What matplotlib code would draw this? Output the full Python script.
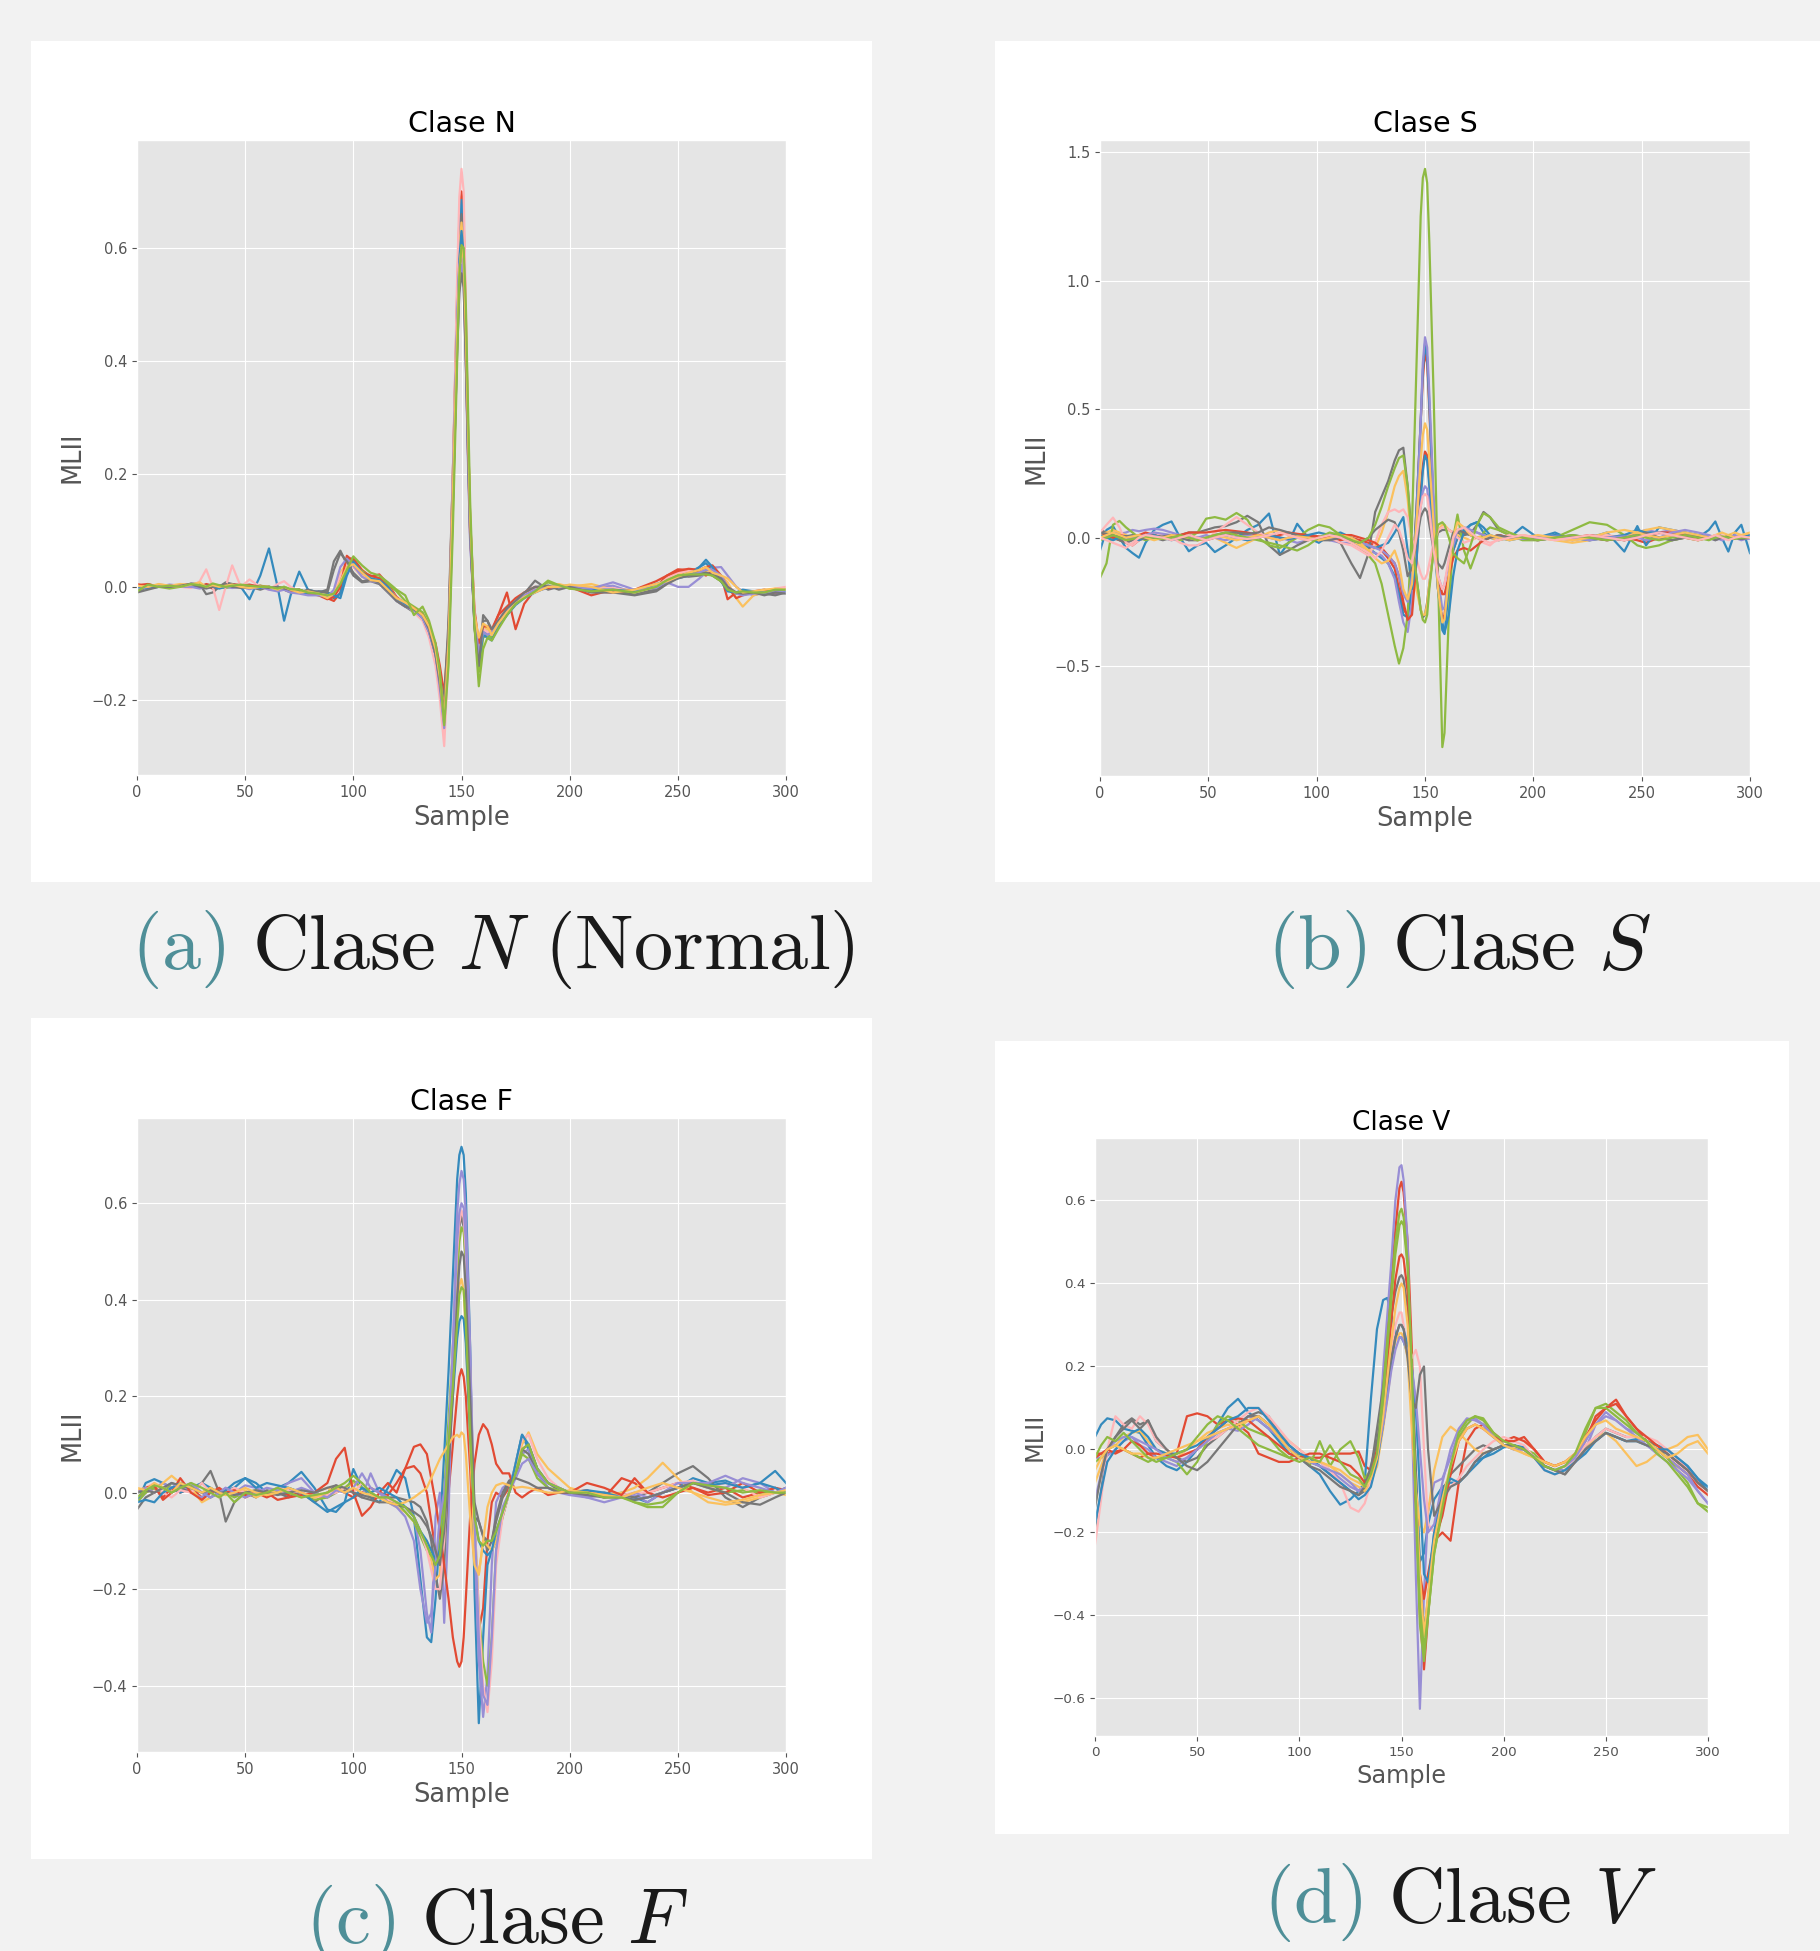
import matplotlib
matplotlib.use('Agg')
import matplotlib.pyplot as plt
from matplotlib.patches import Rectangle

plt.style.use('ggplot')
plt.rcParams['mathtext.fontset'] = 'cm'

# ---------------------------------------------------------------
# Data: ECG beats (MLII lead)
# ---------------------------------------------------------------

# Clase N (Normal)
samples_n = [0, 5, 10, 15, 20, 25, 29, 32, 35, 38,
             41, 44, 48, 52, 57, 61, 65, 68, 71, 75,
             79, 84, 88, 91, 94, 97, 100, 104, 108, 112,
             116, 120, 124, 128, 132, 135, 138, 140, 142, 144,
             146, 148, 149, 150, 151, 152, 153, 154, 156, 158,
             160, 162, 164, 167, 171, 175, 179, 184, 190, 195,
             200, 210, 220, 230, 240, 245, 250, 255, 260, 263,
             266, 270, 273, 277, 280, 285, 290, 295, 300]

n_red_1 = [0.005, 0.0, 0.002, 0.0, 0.003, 0.005, 0.0, 0.002, -0.003, 0.0,
           0.002, 0.005, 0.003, 0.0, 0.002, -0.002, 0.0, -0.005, -0.005, -0.008,
           -0.01, -0.012, -0.02, -0.025, -0.01, 0.05, 0.05, 0.03, 0.018, 0.022,
           0.005, -0.018, -0.03, -0.04, -0.05, -0.07, -0.1, -0.14, -0.19, -0.08,
           0.2, 0.52, 0.65, 0.70, 0.65, 0.48, 0.28, 0.12, -0.04, -0.1,
           -0.07, -0.07, -0.08, -0.05, -0.01, -0.075, -0.03, -0.005, 0.0, 0.002,
           0.0, -0.015, -0.005, -0.01, 0.0, 0.02, 0.031, 0.03, 0.025, 0.02,
           0.028, 0.02, -0.022, -0.01, -0.012, -0.008, -0.01, -0.005, -0.008]
n_blue_1 = [-0.005, 0.0, 0.003, 0.0, 0.002, 0.0, 0.004, 0.0, 0.002, 0.003,
            0.0, 0.0, 0.0, -0.022, 0.02, 0.068, 0.0, -0.06, -0.015, 0.027,
            -0.005, -0.01, -0.012, -0.02, -0.012, 0.03, 0.042, 0.022, 0.012, 0.015,
            0.0, -0.02, -0.03, -0.04, -0.05, -0.075, -0.115, -0.17, -0.25, -0.11,
            0.18, 0.5, 0.63, 0.685, 0.62, 0.45, 0.26, 0.1, -0.06, -0.12,
            -0.08, -0.085, -0.09, -0.07, -0.05, -0.03, -0.015, -0.005, 0.002, 0.0,
            0.003, -0.005, -0.008, -0.01, 0.0, 0.012, 0.02, 0.025, 0.035, 0.042,
            0.03, 0.01, -0.005, -0.012, -0.01, -0.01, -0.012, -0.008, -0.01]
n_purple_1 = [0.0, 0.002, 0.0, 0.004, 0.002, 0.0, 0.003, 0.0, 0.002, -0.002,
              0.0, 0.003, 0.0, 0.002, -0.003, 0.0, -0.005, -0.003, -0.008, -0.01,
              -0.01, -0.012, -0.02, -0.015, 0.02, 0.04, 0.035, 0.02, 0.012, 0.01,
              -0.005, -0.022, -0.03, -0.038, -0.05, -0.075, -0.12, -0.17, -0.255, -0.12,
              0.15, 0.42, 0.53, 0.57, 0.53, 0.4, 0.23, 0.08, -0.06, -0.11,
              -0.075, -0.08, -0.085, -0.065, -0.045, -0.03, -0.015, -0.008, -0.002, 0.0,
              0.0, -0.002, 0.002, -0.01, -0.005, 0.008, 0.0, 0.0, 0.015, 0.025,
              0.034, 0.035, 0.02, 0.0, -0.008, -0.015, -0.01, -0.012, -0.006]
n_gray_1 = [-0.008, 0.0, 0.0, 0.003, 0.0, 0.006, 0.005, -0.013, -0.01, 0.0,
            0.008, 0.005, 0.0, 0.0, -0.005, 0.0, -0.003, -0.005, -0.01, -0.01,
            -0.005, -0.01, -0.005, 0.045, 0.064, 0.04, 0.02, 0.008, 0.01, 0.005,
            -0.01, -0.025, -0.035, -0.045, -0.055, -0.08, -0.12, -0.16, -0.2, -0.06,
            0.2, 0.5, 0.61, 0.66, 0.6, 0.44, 0.26, 0.1, -0.07, -0.15,
            -0.05, -0.06, -0.08, -0.065, -0.04, -0.025, -0.012, 0.011, -0.005, 0.0,
            0.0, -0.005, -0.008, -0.012, -0.005, 0.01, 0.02, 0.018, 0.02, 0.025,
            0.02, 0.01, -0.005, -0.01, -0.012, -0.01, -0.012, -0.015, -0.01]
n_yellow_1 = [0.0, 0.004, 0.0, 0.002, 0.005, 0.003, 0.0, 0.0, 0.004, 0.002,
              0.0, 0.0, 0.002, 0.0, 0.0, -0.003, 0.0, -0.002, -0.005, -0.008,
              -0.012, -0.01, -0.015, -0.01, 0.025, 0.042, 0.035, 0.018, 0.01, 0.012,
              0.0, -0.02, -0.03, -0.04, -0.05, -0.07, -0.11, -0.16, -0.22, -0.1,
              0.18, 0.48, 0.6, 0.645, 0.59, 0.42, 0.24, 0.09, -0.05, -0.11,
              -0.07, -0.075, -0.08, -0.06, -0.04, -0.025, -0.012, -0.005, 0.0, 0.005,
              0.0, 0.005, -0.005, -0.005, 0.0, 0.01, 0.022, 0.03, 0.03, 0.028,
              0.03, 0.02, 0.008, -0.02, -0.035, -0.015, -0.01, -0.006, -0.005]
n_green_1 = [-0.01, 0.005, 0.0, -0.003, 0.0, 0.004, 0.006, 0.0, 0.002, 0.0,
             -0.002, 0.0, 0.003, 0.0, 0.002, 0.0, -0.002, 0.0, -0.005, -0.005,
             -0.01, -0.015, -0.012, -0.01, 0.01, 0.045, 0.04, 0.028, 0.018, 0.016,
             0.005, -0.008, -0.025, -0.035, -0.045, -0.068, -0.105, -0.155, -0.24, -0.12,
             0.13, 0.43, 0.56, 0.61, 0.59, 0.46, 0.28, 0.12, -0.07, -0.15,
             -0.09, -0.085, -0.09, -0.07, -0.045, -0.03, -0.018, -0.005, 0.008, 0.002,
             -0.003, -0.005, -0.005, -0.01, 0.0, 0.015, 0.02, 0.022, 0.025, 0.025,
             0.02, 0.01, -0.005, -0.012, -0.01, -0.008, -0.01, -0.005, -0.008]
n_pink_1 = [0.0, 0.002, 0.0, 0.003, 0.0, -0.002, 0.01, 0.031, 0.0, -0.041,
            0.0, 0.038, 0.0, 0.013, 0.0, -0.005, 0.005, 0.01, 0.0, -0.008,
            -0.01, -0.01, -0.015, -0.01, 0.02, 0.04, 0.035, 0.02, 0.015, 0.012,
            0.0, -0.02, -0.03, -0.045, -0.06, -0.09, -0.14, -0.2, -0.282, -0.12,
            0.2, 0.55, 0.69, 0.74, 0.7, 0.5, 0.28, 0.1, -0.05, -0.1,
            -0.075, -0.08, -0.085, -0.06, -0.04, -0.028, -0.015, -0.005, 0.0, 0.0,
            0.002, -0.003, -0.002, -0.01, 0.0, 0.015, 0.025, 0.028, 0.032, 0.03,
            0.028, 0.018, 0.0, -0.01, -0.012, -0.01, -0.008, -0.003, 0.0]
n_red_2 = [0.003, 0.005, 0.0, 0.002, 0.0, 0.003, 0.0, 0.005, 0.002, 0.0,
           0.004, 0.0, 0.002, 0.004, 0.0, 0.0, -0.004, -0.005, -0.008, -0.005,
           -0.012, -0.015, -0.022, -0.018, 0.0, 0.055, 0.045, 0.025, 0.02, 0.015,
           0.0, -0.02, -0.03, -0.038, -0.05, -0.07, -0.11, -0.16, -0.23, -0.1,
           0.16, 0.45, 0.56, 0.6, 0.56, 0.41, 0.24, 0.09, -0.05, -0.1,
           -0.07, -0.07, -0.075, -0.05, -0.035, -0.02, -0.01, 0.0, -0.002, 0.0,
           0.0, -0.008, -0.01, -0.005, 0.01, 0.02, 0.028, 0.032, 0.03, 0.035,
           0.038, 0.02, 0.0, -0.02, -0.015, -0.008, -0.005, -0.01, -0.005]
n_blue_2 = [0.0, -0.003, 0.0, 0.002, 0.0, 0.003, 0.0, 0.002, 0.0, -0.003,
            0.0, 0.003, 0.0, 0.0, -0.002, 0.0, -0.003, -0.005, -0.005, -0.008,
            -0.012, -0.008, -0.01, -0.015, -0.02, 0.02, 0.045, 0.025, 0.015, 0.012,
            0.0, -0.022, -0.032, -0.04, -0.055, -0.08, -0.12, -0.17, -0.24, -0.11,
            0.15, 0.46, 0.58, 0.63, 0.59, 0.44, 0.25, 0.1, -0.06, -0.13,
            -0.085, -0.09, -0.095, -0.07, -0.05, -0.032, -0.02, -0.01, 0.0, 0.0,
            0.0, -0.005, -0.005, -0.008, 0.005, 0.01, 0.015, 0.02, 0.035, 0.048,
            0.035, 0.01, -0.008, -0.01, -0.005, -0.008, -0.01, -0.005, -0.008]
n_purple_2 = [-0.005, 0.0, 0.004, 0.002, 0.0, 0.0, -0.003, 0.0, 0.0, 0.003,
              0.0, -0.002, 0.0, -0.004, 0.0, -0.005, -0.008, -0.005, -0.01, -0.012,
              -0.015, -0.015, -0.018, -0.005, 0.035, 0.05, 0.038, 0.018, 0.01, 0.008,
              -0.008, -0.025, -0.035, -0.042, -0.055, -0.08, -0.12, -0.18, -0.25, -0.1,
              0.18, 0.47, 0.57, 0.6, 0.55, 0.4, 0.22, 0.08, -0.05, -0.12,
              -0.08, -0.085, -0.08, -0.06, -0.04, -0.025, -0.015, -0.005, 0.0, -0.002,
              0.0, -0.003, 0.008, -0.005, -0.002, 0.01, 0.018, 0.02, 0.025, 0.03,
              0.03, 0.02, 0.0, -0.012, -0.015, -0.012, -0.01, -0.008, -0.01]
n_gray_2 = [-0.01, -0.005, 0.0, 0.0, 0.002, 0.005, 0.0, -0.003, 0.0, 0.002,
            0.005, 0.0, -0.002, 0.0, 0.0, -0.002, 0.0, -0.003, -0.005, -0.005,
            -0.01, -0.008, -0.01, 0.03, 0.06, 0.045, 0.025, 0.01, 0.012, 0.008,
            -0.008, -0.025, -0.035, -0.04, -0.05, -0.075, -0.12, -0.17, -0.23, -0.08,
            0.15, 0.42, 0.52, 0.555, 0.53, 0.4, 0.24, 0.1, -0.07, -0.14,
            -0.06, -0.06, -0.075, -0.06, -0.038, -0.025, -0.01, 0.0, 0.002, -0.005,
            0.0, -0.01, -0.01, -0.015, -0.008, 0.005, 0.015, 0.02, 0.022, 0.025,
            0.022, 0.015, 0.0, -0.01, -0.012, -0.01, -0.015, -0.01, -0.012]
n_yellow_2 = [0.002, 0.0, 0.005, 0.002, 0.0, 0.004, 0.008, 0.0, 0.003, 0.0,
              0.002, 0.004, 0.0, -0.002, 0.0, 0.0, -0.005, 0.0, -0.005, -0.01,
              -0.008, -0.012, -0.02, -0.012, 0.01, 0.035, 0.04, 0.025, 0.012, 0.01,
              -0.005, -0.02, -0.028, -0.038, -0.05, -0.07, -0.11, -0.16, -0.24, -0.1,
              0.16, 0.45, 0.56, 0.6, 0.58, 0.45, 0.28, 0.12, -0.05, -0.09,
              -0.065, -0.07, -0.085, -0.065, -0.045, -0.03, -0.018, -0.01, 0.0, 0.0,
              0.004, 0.0, -0.01, -0.005, 0.005, 0.01, 0.018, 0.025, 0.03, 0.035,
              0.025, 0.02, 0.015, 0.0, -0.01, -0.008, -0.005, -0.003, -0.005]
n_green_2 = [-0.008, 0.004, 0.0, 0.002, 0.0, 0.005, 0.003, 0.0, 0.006, 0.003,
             0.0, 0.002, 0.004, 0.002, 0.0, 0.0, -0.003, 0.0, -0.004, -0.005,
             -0.01, -0.012, -0.015, -0.012, 0.005, 0.03, 0.054, 0.038, 0.025, 0.02,
             0.008, -0.005, -0.015, -0.05, -0.035, -0.06, -0.1, -0.15, -0.245, -0.14,
             0.1, 0.4, 0.55, 0.605, 0.6, 0.5, 0.32, 0.15, -0.07, -0.176,
             -0.11, -0.09, -0.095, -0.075, -0.05, -0.03, -0.02, -0.008, 0.011, 0.003,
             -0.003, -0.008, -0.005, -0.01, 0.0, 0.012, 0.02, 0.022, 0.022, 0.022,
             0.02, 0.01, -0.005, -0.01, -0.008, -0.01, -0.01, -0.005, -0.005]

# Clase S
samples_s = [0, 3, 6, 9, 12, 15, 18, 21, 25, 29,
             33, 37, 41, 45, 49, 53, 58, 63, 68, 73,
             78, 83, 87, 91, 96, 101, 106, 111, 116, 120,
             124, 127, 130, 133, 136, 138, 140, 142, 144, 146,
             148, 149, 150, 151, 152, 154, 156, 158, 159, 161,
             163, 165, 168, 171, 174, 177, 180, 184, 189, 195,
             202, 210, 218, 226, 234, 242, 248, 252, 258, 264,
             270, 276, 281, 284, 287, 290, 293, 296, 300]

s_red_1 = [0.0, 0.01, 0.0, -0.01, -0.02, -0.03, -0.01, 0.0, 0.01, 0.0,
           -0.005, 0.0, 0.01, 0.0, -0.01, 0.0, 0.01, 0.02, 0.01, 0.0,
           0.01, 0.0, -0.005, 0.0, 0.01, 0.005, 0.0, -0.01, 0.0, -0.01,
           -0.02, -0.03, -0.05, -0.08, -0.12, -0.2, -0.28, -0.3, -0.2, 0.1,
           0.45, 0.62, 0.72, 0.68, 0.5, 0.1, -0.2, -0.32, -0.3, -0.15,
           -0.05, 0.0, 0.02, 0.01, 0.0, -0.01, 0.0, 0.01, 0.0, -0.005,
           0.0, 0.005, -0.005, 0.0, -0.01, 0.0, -0.01, -0.02, 0.0, 0.01,
           0.0, -0.01, 0.0, 0.005, 0.0, -0.005, 0.0, 0.005, 0.0]
s_blue_1 = [-0.05, 0.03, 0.045, 0.0, -0.04, -0.06, -0.078, -0.02, 0.03, 0.05,
            0.063, 0.0, -0.053, -0.03, -0.02, -0.056, -0.03, 0.0, 0.03, 0.05,
            0.094, -0.067, -0.02, 0.054, 0.0, -0.02, 0.01, 0.02, 0.0, -0.02,
            -0.04, -0.06, -0.08, -0.1, -0.15, -0.22, -0.3, -0.31, -0.2, 0.1,
            0.45, 0.65, 0.755, 0.7, 0.52, 0.1, -0.2, -0.36, -0.375, -0.2,
            -0.05, 0.0, 0.03, 0.05, 0.06, 0.02, 0.0, -0.01, 0.0, 0.042,
            0.0, 0.02, -0.01, 0.0, 0.02, -0.054, 0.045, -0.03, 0.04, 0.03,
            0.02, 0.0, 0.03, 0.063, 0.0, -0.054, 0.02, 0.05, -0.06]
s_purple_1 = [0.0, 0.01, 0.02, 0.015, 0.02, 0.03, 0.025, 0.03, 0.035, 0.03,
              0.02, 0.01, 0.0, -0.01, -0.005, 0.0, 0.01, 0.0, -0.01, 0.0,
              0.01, 0.0, -0.01, -0.02, -0.01, 0.0, -0.01, -0.02, -0.02, -0.03,
              -0.05, -0.06, -0.07, -0.1, -0.16, -0.25, -0.33, -0.367, -0.25, 0.05,
              0.45, 0.68, 0.78, 0.74, 0.56, 0.15, -0.15, -0.28, -0.27, -0.15,
              -0.03, 0.02, 0.04, 0.03, 0.02, 0.01, 0.0, 0.0, 0.01, 0.0,
              0.0, 0.01, 0.0, -0.01, 0.0, 0.01, 0.02, 0.03, 0.02, 0.03,
              0.02, 0.01, 0.0, -0.01, 0.0, 0.01, 0.0, -0.01, 0.0]
s_gray_1 = [0.03, 0.02, 0.0, -0.01, -0.02, -0.01, 0.0, 0.01, 0.0, -0.01,
            0.0, 0.01, 0.02, 0.02, 0.03, 0.04, 0.045, 0.06, 0.085, 0.06,
            -0.03, -0.067, -0.05, -0.03, -0.01, 0.0, 0.0, -0.02, -0.1, -0.157,
            -0.06, 0.1, 0.16, 0.22, 0.3, 0.34, 0.35, 0.2, 0.0, -0.15,
            -0.28, -0.31, -0.3, -0.25, -0.18, -0.05, 0.02, 0.03, 0.03, 0.03,
            0.02, 0.02, 0.01, 0.015, 0.05, 0.1, 0.08, 0.03, 0.01, 0.0,
            -0.01, 0.0, -0.01, 0.01, 0.0, -0.01, 0.0, 0.01, 0.0, -0.01,
            0.0, 0.01, 0.0, -0.005, 0.0, 0.005, 0.0, -0.005, 0.0]
s_yellow_1 = [0.01, 0.02, 0.03, 0.02, 0.01, 0.0, 0.005, 0.01, 0.0, -0.005,
              0.0, 0.01, 0.0, -0.01, -0.005, 0.0, -0.02, -0.04, -0.02, 0.0,
              0.02, 0.03, 0.01, 0.0, -0.01, 0.0, 0.01, 0.0, -0.01, -0.03,
              -0.05, -0.04, 0.02, 0.1, 0.2, 0.24, 0.26, 0.15, -0.05, -0.2,
              -0.28, -0.3, -0.3, -0.26, -0.18, -0.05, 0.03, 0.05, 0.05, 0.03,
              0.02, 0.01, 0.0, -0.01, 0.0, 0.01, 0.0, -0.01, 0.0, 0.01,
              0.0, -0.01, -0.02, -0.01, 0.0, 0.01, 0.02, 0.03, 0.04, 0.03,
              0.02, 0.01, 0.0, 0.01, 0.0, 0.01, 0.02, 0.01, 0.015]
s_green_1 = [-0.157, -0.1, 0.05, 0.065, 0.04, 0.02, 0.0, -0.01, 0.0, 0.01,
             0.0, -0.01, 0.0, 0.02, 0.074, 0.08, 0.07, 0.096, 0.07, 0.0,
             -0.03, -0.04, -0.02, 0.0, 0.03, 0.05, 0.04, 0.01, -0.02, -0.04,
             -0.07, -0.1, -0.18, -0.3, -0.42, -0.49, -0.43, -0.3, 0.05, 0.65,
             1.25, 1.4, 1.435, 1.38, 1.15, 0.55, -0.15, -0.815, -0.76, -0.3,
             0.0, 0.09, -0.05, -0.12, -0.05, 0.02, 0.04, 0.03, 0.01, -0.01,
             -0.01, 0.0, 0.03, 0.06, 0.05, 0.01, -0.03, -0.04, -0.03, -0.01,
             0.0, -0.01, 0.0, 0.005, 0.0, 0.01, 0.0, 0.005, 0.0]
s_pink_1 = [0.02, 0.05, 0.078, 0.04, -0.02, -0.03, -0.01, 0.0, 0.02, 0.01,
            0.0, -0.02, -0.03, -0.03, -0.01, 0.02, 0.05, 0.08, 0.05, 0.02,
            0.0, -0.01, 0.0, 0.01, 0.0, -0.01, 0.0, -0.02, -0.03, -0.05,
            -0.07, -0.02, 0.05, 0.1, 0.11, 0.1, 0.11, 0.08, 0.0, -0.08,
            -0.14, -0.16, -0.16, -0.14, -0.1, -0.02, 0.03, 0.04, 0.04, 0.03,
            0.02, 0.0, -0.02, -0.01, 0.0, -0.02, -0.03, 0.0, 0.01, 0.0,
            -0.01, 0.0, -0.01, 0.0, 0.01, 0.0, 0.01, 0.0, 0.015, 0.02,
            0.01, 0.0, 0.01, 0.0, 0.01, 0.0, 0.005, 0.0, 0.01]
s_red_2 = [0.02, 0.01, 0.0, 0.01, 0.005, 0.0, 0.01, 0.02, 0.01, 0.0,
           0.005, 0.01, 0.02, 0.02, 0.02, 0.025, 0.03, 0.025, 0.02, 0.01,
           0.0, 0.01, 0.02, 0.015, 0.01, 0.0, 0.005, 0.01, 0.01, 0.0,
           -0.01, -0.02, -0.04, -0.07, -0.1, -0.15, -0.25, -0.32, -0.3, -0.1,
           0.18, 0.28, 0.335, 0.32, 0.22, 0.0, -0.15, -0.22, -0.22, -0.15,
           -0.08, -0.05, -0.04, -0.05, -0.03, -0.01, 0.0, 0.01, 0.0, 0.0,
           0.0, -0.005, 0.0, 0.01, 0.0, -0.01, 0.0, 0.01, 0.02, 0.02,
           0.01, 0.0, 0.005, 0.0, -0.005, 0.0, 0.005, 0.0, 0.005]
s_blue_2 = [0.01, 0.0, -0.01, 0.0, 0.005, 0.0, -0.01, 0.0, 0.01, 0.0,
            -0.01, 0.0, 0.005, 0.0, -0.005, 0.0, 0.01, 0.0, -0.01, 0.0,
            0.01, 0.0, -0.005, 0.0, 0.01, 0.02, 0.01, 0.0, -0.01, -0.02,
            -0.03, -0.04, -0.03, -0.02, 0.02, 0.05, 0.08, -0.05, -0.2, -0.1,
            0.15, 0.26, 0.32, 0.3, 0.2, 0.0, -0.2, -0.33, -0.37, -0.3,
            -0.15, -0.05, 0.02, 0.05, 0.06, 0.04, 0.01, 0.0, -0.01, 0.0,
            0.0, 0.01, 0.0, -0.01, 0.0, 0.01, 0.03, 0.02, 0.02, 0.01,
            0.02, 0.01, 0.0, 0.005, 0.0, -0.005, 0.0, 0.0, 0.01]
s_purple_2 = [0.0, 0.005, 0.01, 0.0, -0.005, 0.0, 0.005, 0.01, 0.02, 0.015,
              0.01, 0.0, -0.01, 0.0, 0.01, 0.0, -0.01, 0.0, 0.01, 0.005,
              0.0, -0.01, 0.0, 0.005, 0.0, -0.01, -0.005, 0.0, -0.01, -0.02,
              -0.03, -0.04, -0.05, -0.07, -0.1, -0.15, -0.22, -0.25, -0.15, 0.0,
              0.12, 0.18, 0.2, 0.19, 0.12, -0.02, -0.15, -0.2, -0.18, -0.1,
              -0.02, 0.03, 0.04, 0.03, 0.02, 0.01, 0.0, 0.005, 0.0, -0.005,
              0.0, 0.005, 0.0, -0.01, 0.0, 0.005, 0.0, -0.01, 0.0, 0.02,
              0.03, 0.02, 0.01, 0.0, -0.01, 0.0, 0.01, 0.0, -0.005]
s_gray_2 = [0.02, 0.015, 0.01, 0.0, 0.005, 0.01, 0.0, -0.005, 0.0, 0.005,
            0.01, 0.0, -0.01, -0.01, 0.0, 0.01, 0.02, 0.02, 0.015, 0.02,
            0.04, 0.03, 0.02, 0.01, 0.0, -0.01, -0.01, 0.0, -0.01, -0.02,
            0.0, 0.03, 0.05, 0.07, 0.06, 0.02, -0.05, -0.15, -0.12, -0.02,
            0.08, 0.1, 0.114, 0.1, 0.05, -0.05, -0.1, -0.12, -0.1, -0.04,
            0.02, 0.03, 0.02, 0.01, 0.0, -0.01, 0.0, 0.01, 0.0, 0.0,
            -0.01, 0.0, 0.01, 0.0, -0.01, 0.0, 0.01, 0.02, 0.0, -0.01,
            0.0, 0.005, 0.0, -0.01, 0.0, 0.005, 0.0, -0.005, 0.0]
s_yellow_2 = [0.0, 0.01, 0.02, 0.01, 0.0, 0.005, 0.01, 0.0, -0.01, 0.0,
              0.01, 0.005, 0.0, -0.01, 0.0, 0.01, 0.0, -0.01, 0.0, 0.01,
              0.0, -0.01, 0.0, 0.005, 0.0, -0.01, 0.0, 0.01, 0.0, -0.02,
              -0.05, -0.08, -0.1, -0.09, -0.05, -0.1, -0.2, -0.24, -0.18, 0.05,
              0.3, 0.4, 0.445, 0.42, 0.3, 0.05, -0.2, -0.33, -0.32, -0.15,
              0.0, 0.06, 0.04, 0.01, 0.0, 0.0, 0.01, 0.0, -0.01, 0.0,
              0.01, 0.0, -0.01, 0.0, 0.02, 0.03, 0.02, 0.01, 0.0, 0.01,
              0.02, 0.01, 0.0, 0.01, 0.02, 0.01, 0.0, 0.01, 0.02]
s_green_2 = [-0.01, 0.0, 0.01, 0.0, -0.01, -0.005, 0.0, 0.005, 0.0, -0.005,
             0.0, 0.01, 0.0, -0.01, 0.0, 0.01, 0.02, 0.01, 0.0, -0.01,
             -0.02, -0.03, -0.04, -0.05, -0.03, 0.0, 0.02, 0.01, -0.01, -0.02,
             0.0, 0.05, 0.12, 0.2, 0.27, 0.31, 0.32, 0.2, -0.02, -0.15,
             -0.28, -0.32, -0.33, -0.3, -0.2, -0.05, 0.05, 0.06, 0.05, 0.0,
             -0.06, -0.08, -0.1, -0.03, 0.05, 0.095, 0.08, 0.04, 0.02, 0.0,
             -0.01, 0.0, 0.01, 0.0, -0.01, 0.0, 0.01, 0.0, -0.01, 0.0,
             0.01, 0.0, -0.01, 0.0, 0.005, 0.0, -0.005, 0.0, 0.0]
s_pink_2 = [0.0, -0.01, -0.02, -0.03, -0.04, -0.02, 0.0, 0.01, 0.005, 0.0,
            -0.01, 0.0, 0.01, 0.0, -0.01, 0.0, 0.01, 0.0, -0.005, 0.0,
            0.01, 0.02, 0.01, 0.0, -0.01, 0.0, 0.01, 0.0, -0.02, -0.04,
            -0.06, -0.08, -0.05, 0.0, 0.05, 0.03, -0.02, -0.08, -0.1, 0.0,
            0.12, 0.16, 0.17, 0.16, 0.1, -0.05, -0.15, -0.2, -0.18, -0.08,
            0.0, 0.03, 0.04, 0.02, 0.0, -0.01, -0.02, -0.01, 0.0, 0.01,
            0.0, -0.01, 0.0, 0.01, 0.0, -0.01, 0.0, 0.01, 0.02, 0.01,
            0.0, -0.01, 0.0, 0.01, 0.0, -0.01, 0.0, 0.005, 0.0]

# Clase F
samples_f = [0, 4, 8, 12, 16, 20, 25, 30, 34, 38,
             41, 45, 50, 55, 60, 65, 70, 76, 82, 88,
             92, 96, 100, 104, 108, 112, 116, 120, 124, 128,
             131, 134, 136, 138, 140, 142, 144, 146, 148, 149,
             150, 151, 152, 154, 156, 158, 160, 162, 164, 166,
             169, 172, 175, 178, 181, 185, 190, 195, 200, 208,
             216, 224, 230, 236, 243, 250, 257, 264, 272, 280,
             288, 295, 300]

f_red_1 = [-0.01, 0.0, 0.01, -0.01, 0.01, 0.0, 0.01, -0.01, 0.0, 0.005,
           0.0, 0.01, -0.005, 0.0, -0.01, 0.0, -0.005, 0.0, -0.01, 0.0,
           0.01, 0.0, -0.01, 0.0, 0.01, 0.0, -0.005, 0.02, 0.05, 0.055,
           0.04, 0.0, -0.06, -0.12, -0.15, -0.1, 0.0, 0.1, 0.2, 0.24,
           0.256, 0.24, 0.2, 0.05, -0.15, -0.285, -0.24, -0.1, -0.02, 0.0,
           -0.01, 0.01, 0.04, 0.09, 0.1, 0.05, 0.02, 0.01, 0.0, 0.005,
           -0.01, 0.03, 0.02, 0.0, 0.01, 0.02, 0.01, 0.0, 0.01, -0.01,
           0.0, 0.01, 0.005]
f_blue_1 = [-0.02, 0.02, 0.028, 0.02, 0.01, 0.0, 0.01, 0.02, 0.01, 0.0,
            0.005, 0.01, 0.03, 0.02, 0.0, 0.01, 0.02, 0.043, 0.01, -0.035,
            -0.04, -0.02, 0.049, 0.01, -0.01, -0.02, 0.01, 0.047, 0.03, -0.05,
            -0.18, -0.3, -0.31, -0.22, -0.08, 0.08, 0.25, 0.45, 0.65, 0.7,
            0.717, 0.7, 0.62, 0.3, -0.2, -0.478, -0.3, -0.15, -0.12, -0.1,
            -0.05, 0.0, 0.06, 0.12, 0.09, 0.04, 0.01, 0.0, 0.0, 0.0,
            -0.01, 0.0, -0.01, -0.02, 0.0, 0.01, 0.03, 0.02, 0.025, 0.01,
            0.02, 0.045, 0.02]
f_purple_1 = [-0.02, 0.0, 0.01, 0.02, 0.01, 0.015, 0.0, -0.01, 0.005, 0.0,
              0.01, 0.0, 0.015, 0.01, 0.0, 0.005, 0.02, 0.03, 0.0, -0.01,
              0.0, 0.01, 0.0, -0.01, 0.04, 0.0, -0.01, -0.02, -0.03, -0.05,
              -0.12, -0.25, -0.29, -0.05, 0.0, -0.27, -0.05, 0.3, 0.58, 0.64,
              0.667, 0.65, 0.58, 0.3, -0.1, -0.35, -0.465, -0.38, -0.15, -0.02,
              0.01, 0.02, 0.05, 0.08, 0.09, 0.04, 0.01, 0.0, -0.005, -0.01,
              -0.005, -0.01, -0.005, -0.02, 0.0, 0.01, 0.02, 0.015, 0.01, 0.03,
              0.02, 0.0, 0.01]
f_gray_1 = [-0.035, -0.01, 0.0, 0.01, 0.0, 0.01, 0.0, 0.02, 0.045, 0.0,
            -0.06, -0.02, 0.0, -0.01, 0.005, 0.0, -0.01, 0.0, -0.02, 0.0,
            0.015, 0.005, 0.0, -0.005, -0.01, -0.01, -0.01, -0.01, -0.015, -0.02,
            -0.03, -0.06, -0.1, -0.17, -0.22, -0.15, 0.05, 0.28, 0.5, 0.55,
            0.574, 0.55, 0.47, 0.2, -0.05, -0.06, -0.09, -0.12, -0.1, -0.05,
            0.0, 0.025, 0.03, 0.09, 0.08, 0.04, 0.02, 0.005, 0.0, -0.005,
            0.0, -0.005, -0.01, 0.0, 0.02, 0.04, 0.055, 0.03, -0.01, -0.03,
            -0.01, 0.0, 0.01]
f_yellow_1 = [0.005, 0.01, 0.0, 0.02, 0.035, 0.02, 0.01, -0.02, -0.01, 0.0,
              -0.005, 0.0, 0.005, -0.01, 0.0, 0.005, 0.0, -0.01, 0.0, 0.01,
              0.0, 0.01, 0.02, 0.01, 0.0, -0.01, -0.02, -0.03, -0.04, -0.06,
              -0.08, -0.11, -0.14, -0.18, -0.17, -0.05, 0.12, 0.28, 0.4, 0.43,
              0.443, 0.42, 0.33, 0.1, -0.12, -0.17, -0.1, -0.11, -0.12, -0.1,
              -0.05, 0.0, 0.05, 0.1, 0.125, 0.08, 0.05, 0.03, 0.01, 0.0,
              -0.005, 0.0, 0.01, 0.03, 0.062, 0.03, 0.0, -0.02, -0.025, -0.02,
              -0.01, 0.0, -0.005]
f_green_1 = [-0.02, 0.0, 0.01, 0.0, 0.02, 0.01, 0.015, 0.0, 0.01, -0.005,
             0.0, -0.01, 0.0, 0.005, -0.005, 0.0, 0.01, 0.0, -0.015, -0.01,
             0.0, 0.01, 0.025, 0.01, 0.0, -0.01, -0.015, -0.02, -0.04, -0.06,
             -0.09, -0.12, -0.13, -0.14, -0.1, 0.0, 0.15, 0.3, 0.45, 0.52,
             0.55, 0.54, 0.48, 0.25, -0.05, -0.25, -0.35, -0.4, -0.3, -0.12,
             -0.05, 0.0, 0.04, 0.08, 0.07, 0.03, 0.01, 0.005, 0.0, 0.0,
             -0.01, -0.005, -0.02, -0.03, -0.03, 0.0, 0.02, 0.01, 0.0, 0.005,
             0.0, 0.0, 0.0]
f_pink_1 = [0.0, 0.01, 0.02, 0.0, -0.01, 0.005, 0.0, 0.02, 0.0, -0.01,
            0.0, 0.01, 0.0, -0.005, 0.0, 0.01, 0.005, 0.0, -0.01, -0.005,
            0.0, 0.01, 0.0, 0.02, 0.0, -0.01, -0.015, -0.02, -0.03, -0.05,
            -0.08, -0.12, -0.16, -0.2, -0.2, -0.1, 0.1, 0.3, 0.5, 0.56,
            0.585, 0.57, 0.5, 0.25, -0.05, -0.25, -0.4, -0.455, -0.35, -0.15,
            -0.05, 0.0, 0.06, 0.11, 0.12, 0.07, 0.03, 0.01, 0.0, 0.0,
            -0.01, -0.005, 0.0, 0.0, 0.01, 0.02, 0.025, 0.01, 0.02, 0.01,
            -0.01, 0.0, 0.005]
f_red_2 = [0.0, 0.01, 0.015, -0.015, 0.0, 0.03, 0.0, -0.015, 0.0, 0.01,
           0.0, 0.005, -0.01, 0.0, 0.0, -0.015, -0.01, -0.005, 0.0, 0.02,
           0.07, 0.093, 0.0, -0.048, -0.03, 0.0, 0.02, 0.0, 0.05, 0.095,
           0.1, 0.08, 0.03, -0.02, -0.08, -0.15, -0.22, -0.3, -0.35, -0.361,
           -0.35, -0.3, -0.22, -0.05, 0.06, 0.12, 0.142, 0.13, 0.1, 0.06,
           0.04, 0.04, 0.0, -0.01, 0.0, 0.01, -0.005, 0.0, 0.0, 0.02,
           0.01, -0.005, 0.03, 0.0, -0.01, 0.0, 0.01, -0.005, 0.0, 0.02,
           0.0, 0.01, 0.0]
f_blue_2 = [-0.02, -0.015, -0.02, 0.0, 0.01, 0.02, 0.01, 0.0, -0.01, 0.0,
            0.005, 0.02, 0.03, 0.01, 0.02, 0.015, 0.01, 0.0, -0.02, -0.04,
            -0.03, -0.02, -0.01, 0.01, 0.0, 0.01, 0.0, -0.01, -0.03, -0.05,
            -0.08, -0.1, -0.12, -0.14, -0.12, -0.05, 0.08, 0.2, 0.32, 0.355,
            0.366, 0.36, 0.31, 0.12, -0.05, -0.1, -0.12, -0.13, -0.12, -0.08,
            -0.04, 0.0, 0.06, 0.12, 0.1, 0.05, 0.02, 0.01, 0.0, 0.005,
            0.0, -0.01, -0.015, -0.01, 0.0, 0.01, 0.02, 0.015, 0.02, 0.01,
            0.02, 0.01, 0.0]
f_purple_2 = [0.0, 0.01, 0.0, 0.01, 0.02, 0.01, 0.02, 0.0, -0.01, 0.0,
              0.01, 0.0, -0.01, 0.0, 0.01, 0.005, 0.0, 0.01, 0.0, -0.01,
              0.005, 0.0, 0.01, 0.04, 0.01, 0.0, -0.02, -0.03, -0.05, -0.1,
              -0.2, -0.27, -0.25, -0.15, -0.05, 0.0, 0.1, 0.3, 0.52, 0.58,
              0.6, 0.59, 0.52, 0.28, -0.05, -0.3, -0.42, -0.44, -0.3, -0.12,
              -0.03, 0.0, 0.03, 0.06, 0.07, 0.04, 0.02, 0.01, 0.0, -0.01,
              -0.02, -0.01, 0.0, -0.01, 0.0, 0.02, 0.02, 0.02, 0.035, 0.02,
              0.01, 0.0, 0.01]
f_gray_2 = [0.0, 0.005, 0.0, 0.01, 0.02, 0.015, 0.01, 0.0, 0.005, 0.0,
            0.0, -0.005, 0.0, 0.005, 0.0, -0.005, 0.0, 0.005, 0.0, 0.01,
            0.015, 0.01, 0.0, -0.01, -0.015, -0.02, -0.02, -0.025, -0.03, -0.04,
            -0.05, -0.07, -0.09, -0.12, -0.15, -0.08, 0.05, 0.2, 0.4, 0.47,
            0.5, 0.49, 0.42, 0.2, -0.02, -0.06, -0.09, -0.1, -0.1, -0.06,
            -0.01, 0.02, 0.03, 0.025, 0.02, 0.01, 0.01, 0.0, 0.0, -0.005,
            -0.01, -0.01, -0.015, -0.01, 0.0, 0.01, 0.02, 0.01, 0.0, -0.02,
            -0.025, -0.01, 0.0]
f_yellow_2 = [0.01, 0.005, 0.02, 0.01, 0.0, 0.02, 0.01, 0.0, 0.01, 0.0,
              -0.005, 0.0, 0.01, 0.0, -0.005, 0.0, 0.01, 0.0, -0.01, 0.0,
              0.01, 0.0, 0.01, 0.0, -0.005, -0.01, -0.02, -0.025, -0.02, -0.01,
              0.0, 0.01, 0.03, 0.05, 0.07, 0.085, 0.1, 0.115, 0.12, 0.115,
              0.125, 0.12, 0.08, -0.05, -0.15, -0.17, -0.1, -0.03, 0.0, 0.015,
              0.02, 0.015, 0.01, 0.012, 0.01, 0.005, 0.0, 0.0, 0.005, 0.0,
              -0.005, -0.01, 0.0, 0.01, 0.02, 0.01, 0.0, -0.01, -0.02, -0.015,
              -0.005, 0.0, 0.005]
f_green_2 = [-0.01, 0.005, 0.015, 0.01, 0.0, 0.01, 0.02, 0.01, 0.0, -0.01,
             0.0, -0.02, 0.0, -0.005, 0.0, 0.01, 0.0, -0.01, -0.005, 0.0,
             0.01, 0.02, 0.035, 0.02, 0.0, -0.01, -0.01, -0.02, -0.03, -0.05,
             -0.08, -0.11, -0.13, -0.15, -0.13, -0.05, 0.1, 0.22, 0.35, 0.41,
             0.426, 0.42, 0.35, 0.12, -0.05, -0.1, -0.11, -0.1, -0.1, -0.08,
             -0.04, 0.0, 0.04, 0.09, 0.1, 0.05, 0.02, 0.01, 0.0, 0.0,
             -0.01, -0.01, -0.02, -0.025, -0.02, 0.0, 0.02, 0.015, 0.01, 0.0,
             0.005, 0.0, 0.0]

# Clase V
samples_v = [0, 3, 6, 10, 14, 18, 22, 26, 30, 35,
             40, 45, 50, 55, 60, 65, 70, 75, 80, 85,
             90, 95, 100, 105, 110, 115, 120, 125, 129, 132,
             135, 138, 141, 143, 145, 147, 149, 150, 151, 153,
             155, 157, 159, 161, 163, 166, 170, 174, 178, 182,
             186, 190, 195, 200, 205, 210, 215, 220, 225, 230,
             235, 240, 245, 250, 255, 260, 265, 270, 275, 280,
             285, 290, 295, 300]

v_red_1 = [-0.01, -0.01, -0.01, -0.005, 0.0, -0.01, -0.02, -0.01, -0.02, -0.02,
           -0.01, 0.08, 0.087, 0.08, 0.06, 0.07, 0.06, 0.04, -0.01, -0.02,
           -0.03, -0.03, -0.02, -0.02, -0.02, -0.01, -0.01, -0.01, -0.005, -0.04,
           -0.05, 0.0, 0.15, 0.28, 0.4, 0.53, 0.63, 0.645, 0.62, 0.5,
           0.25, -0.1, -0.4, -0.53, -0.4, -0.22, -0.2, -0.22, -0.08, 0.02,
           0.05, 0.06, 0.04, 0.02, 0.03, 0.02, 0.0, -0.03, -0.04, -0.03,
           -0.02, 0.02, 0.08, 0.1, 0.12, 0.08, 0.05, 0.02, 0.0, -0.02,
           -0.04, -0.06, -0.09, -0.11]
v_blue_1 = [0.03, 0.06, 0.075, 0.07, 0.05, 0.045, 0.04, 0.01, -0.02, -0.04,
            -0.05, -0.03, 0.0, 0.02, 0.06, 0.1, 0.122, 0.09, 0.07, 0.05,
            0.02, -0.01, -0.02, -0.04, -0.06, -0.1, -0.133, -0.12, -0.1, -0.08,
            0.12, 0.29, 0.36, 0.365, 0.33, 0.28, 0.27, 0.27, 0.26, 0.23,
            0.18, -0.05, -0.27, -0.25, -0.18, -0.12, -0.09, -0.08, -0.08, -0.06,
            -0.03, -0.02, -0.01, 0.005, 0.01, 0.005, -0.02, -0.04, -0.05, -0.05,
            -0.03, -0.01, 0.02, 0.04, 0.03, 0.02, 0.025, 0.02, 0.01, 0.0,
            -0.02, -0.04, -0.07, -0.09]
v_purple_1 = [-0.02, -0.02, -0.015, 0.0, 0.02, 0.03, 0.01, 0.0, -0.02, -0.03,
              -0.04, -0.02, 0.0, 0.02, 0.04, 0.05, 0.045, 0.06, 0.08, 0.06,
              0.03, 0.0, -0.01, -0.02, -0.03, -0.05, -0.07, -0.09, -0.1, -0.09,
              -0.06, -0.04, 0.19, 0.32, 0.45, 0.6, 0.68, 0.685, 0.65, 0.5,
              0.1, -0.3, -0.625, -0.35, -0.15, -0.08, -0.07, -0.02, 0.04, 0.07,
              0.075, 0.06, 0.03, 0.01, 0.0, 0.0, -0.02, -0.04, -0.05, -0.05,
              -0.03, 0.0, 0.06, 0.08, 0.07, 0.05, 0.04, 0.02, 0.0, -0.02,
              -0.04, -0.06, -0.1, -0.13]
v_gray_1 = [-0.19, -0.1, 0.0, 0.03, 0.06, 0.075, 0.06, 0.07, 0.02, 0.0,
            -0.02, -0.03, -0.02, 0.01, 0.03, 0.05, 0.06, 0.08, 0.09, 0.08,
            0.04, 0.01, -0.01, -0.03, -0.04, -0.06, -0.08, -0.1, -0.11, -0.1,
            -0.05, 0.05, 0.15, 0.24, 0.32, 0.38, 0.415, 0.42, 0.41, 0.34,
            0.18, -0.05, -0.3, -0.44, -0.36, -0.2, -0.1, -0.06, -0.04, -0.02,
            0.0, 0.01, 0.0, 0.01, 0.01, 0.0, -0.02, -0.04, -0.05, -0.06,
            -0.03, 0.0, 0.03, 0.05, 0.04, 0.03, 0.03, 0.02, 0.01, -0.01,
            -0.03, -0.05, -0.08, -0.1]
v_yellow_1 = [-0.08, -0.04, 0.0, 0.01, 0.03, 0.04, 0.045, 0.02, 0.0, -0.01,
              -0.02, 0.0, 0.02, 0.04, 0.05, 0.06, 0.05, 0.07, 0.08, 0.06,
              0.04, 0.02, 0.0, -0.02, -0.03, -0.04, -0.06, -0.08, -0.09, -0.1,
              -0.08, -0.04, 0.05, 0.12, 0.2, 0.26, 0.28, 0.28, 0.27, 0.22,
              0.05, -0.1, -0.18, -0.2, -0.15, -0.05, 0.03, 0.055, 0.04, 0.02,
              0.0, -0.01, 0.0, 0.01, 0.005, -0.01, -0.02, -0.03, -0.04, -0.03,
              -0.02, 0.0, 0.03, 0.04, 0.02, -0.01, -0.04, -0.03, -0.01, 0.0,
              0.01, 0.03, 0.035, 0.0]
v_green_1 = [-0.03, -0.02, 0.0, 0.01, 0.0, -0.01, -0.02, -0.03, -0.02, -0.02,
             -0.03, -0.06, -0.03, 0.02, 0.06, 0.08, 0.07, 0.05, 0.04, 0.03,
             0.0, -0.02, -0.01, -0.04, 0.02, -0.04, 0.0, 0.02, -0.02, -0.07,
             -0.05, 0.0, 0.14, 0.26, 0.38, 0.5, 0.57, 0.58, 0.56, 0.45,
             0.2, -0.15, -0.42, -0.51, -0.4, -0.25, -0.15, -0.05, 0.03, 0.06,
             0.08, 0.075, 0.04, 0.01, 0.01, 0.0, -0.01, -0.04, -0.05, -0.04,
             -0.02, 0.04, 0.1, 0.11, 0.09, 0.07, 0.04, 0.02, 0.0, -0.02,
             -0.05, -0.08, -0.13, -0.15]
v_pink_1 = [-0.23, -0.12, 0.0, 0.08, 0.06, 0.05, 0.08, 0.06, 0.02, 0.0,
            -0.02, -0.01, 0.0, 0.02, 0.03, 0.05, 0.07, 0.09, 0.1, 0.08,
            0.05, 0.02, 0.0, -0.02, -0.03, -0.05, -0.08, -0.14, -0.15, -0.13,
            -0.08, 0.0, 0.08, 0.16, 0.24, 0.3, 0.33, 0.33, 0.3, 0.25,
            0.22, 0.24, 0.2, 0.0, -0.18, -0.2, -0.13, -0.09, -0.07, -0.04,
            -0.02, 0.0, 0.02, 0.03, 0.02, 0.01, -0.02, -0.05, -0.06, -0.05,
            -0.02, 0.01, 0.03, 0.05, 0.04, 0.03, 0.03, 0.03, 0.02, 0.0,
            -0.02, -0.05, -0.08, -0.1]
v_red_2 = [-0.02, -0.01, 0.0, -0.01, 0.0, 0.02, 0.01, -0.01, -0.01, -0.015,
           -0.02, -0.01, 0.0, 0.03, 0.05, 0.07, 0.075, 0.07, 0.05, 0.03,
           0.01, -0.01, -0.02, -0.01, -0.01, -0.02, -0.03, -0.04, -0.06, -0.08,
           -0.06, 0.0, 0.1, 0.2, 0.31, 0.41, 0.465, 0.47, 0.46, 0.38,
           0.15, -0.12, -0.3, -0.36, -0.3, -0.22, -0.16, -0.06, 0.02, 0.05,
           0.06, 0.05, 0.03, 0.02, 0.02, 0.03, 0.0, -0.03, -0.04, -0.03,
           -0.01, 0.03, 0.07, 0.1, 0.11, 0.08, 0.05, 0.03, 0.01, -0.01,
           -0.03, -0.05, -0.08, -0.1]
v_blue_2 = [-0.18, -0.1, -0.03, 0.0, 0.02, 0.04, 0.05, 0.03, 0.0, -0.01,
            -0.01, 0.0, 0.01, 0.03, 0.05, 0.07, 0.08, 0.1, 0.1, 0.07,
            0.04, 0.01, -0.01, -0.02, -0.04, -0.06, -0.08, -0.1, -0.12, -0.11,
            -0.09, -0.03, 0.06, 0.13, 0.21, 0.27, 0.3, 0.3, 0.29, 0.25,
            0.2, 0.1, -0.1, -0.3, -0.32, -0.2, -0.1, -0.07, -0.08, -0.06,
            -0.04, -0.02, 0.0, 0.01, 0.01, 0.0, -0.02, -0.05, -0.06, -0.05,
            -0.03, 0.0, 0.02, 0.04, 0.03, 0.02, 0.02, 0.01, 0.0, 0.0,
            -0.02, -0.04, -0.07, -0.1]
v_purple_2 = [-0.12, -0.06, 0.0, 0.02, 0.03, 0.03, 0.02, 0.01, 0.0, -0.02,
              -0.03, -0.02, 0.0, 0.02, 0.04, 0.05, 0.06, 0.08, 0.07, 0.05,
              0.03, 0.0, -0.02, -0.03, -0.04, -0.05, -0.06, -0.08, -0.1, -0.09,
              -0.06, -0.02, 0.06, 0.12, 0.19, 0.24, 0.27, 0.27, 0.26, 0.24,
              0.2, 0.12, 0.0, -0.12, -0.2, -0.18, -0.08, 0.0, 0.05, 0.075,
              0.07, 0.06, 0.03, 0.01, 0.0, 0.0, -0.02, -0.04, -0.05, -0.04,
              -0.02, 0.02, 0.06, 0.09, 0.07, 0.05, 0.03, 0.01, -0.01, -0.03,
              -0.05, -0.07, -0.1, -0.13]
v_gray_2 = [-0.14, -0.06, 0.0, 0.03, 0.05, 0.07, 0.05, 0.07, 0.03, 0.0,
            -0.02, -0.04, -0.05, -0.03, 0.0, 0.03, 0.06, 0.08, 0.08, 0.06,
            0.03, 0.0, -0.02, -0.04, -0.05, -0.07, -0.09, -0.1, -0.11, -0.09,
            -0.04, 0.02, 0.1, 0.16, 0.22, 0.27, 0.3, 0.3, 0.29, 0.22,
            0.12, 0.1, 0.18, 0.2, 0.0, -0.16, -0.12, -0.09, -0.08, -0.06,
            -0.03, -0.01, 0.0, 0.01, 0.01, 0.0, -0.02, -0.04, -0.05, -0.06,
            -0.03, 0.0, 0.02, 0.04, 0.03, 0.02, 0.02, 0.01, 0.0, -0.01,
            -0.03, -0.05, -0.08, -0.1]
v_yellow_2 = [-0.05, -0.02, 0.0, 0.01, 0.0, -0.01, -0.01, -0.02, -0.02, -0.01,
              0.0, 0.01, 0.02, 0.03, 0.04, 0.05, 0.06, 0.07, 0.08, 0.06,
              0.03, 0.0, -0.02, -0.03, -0.03, -0.04, -0.05, -0.07, -0.08, -0.09,
              -0.07, -0.02, 0.08, 0.17, 0.26, 0.34, 0.39, 0.4, 0.39, 0.3,
              0.12, -0.1, -0.3, -0.45, -0.35, -0.22, -0.12, -0.04, 0.02, 0.05,
              0.06, 0.05, 0.03, 0.01, 0.0, -0.01, -0.02, -0.03, -0.04, -0.03,
              -0.01, 0.03, 0.06, 0.07, 0.05, 0.04, 0.03, 0.02, 0.0, -0.02,
              -0.01, 0.01, 0.02, -0.01]
v_green_2 = [-0.02, 0.01, 0.03, 0.02, 0.04, 0.02, 0.0, -0.02, -0.03, -0.02,
             -0.01, 0.0, 0.03, 0.06, 0.08, 0.07, 0.05, 0.03, 0.01, 0.0,
             -0.01, -0.02, -0.03, -0.02, -0.03, 0.01, -0.03, -0.06, -0.07, -0.09,
             -0.06, -0.01, 0.12, 0.24, 0.36, 0.47, 0.54, 0.55, 0.54, 0.44,
             0.2, -0.12, -0.38, -0.48, -0.4, -0.25, -0.14, -0.04, 0.04, 0.07,
             0.08, 0.07, 0.04, 0.02, 0.01, 0.0, -0.02, -0.04, -0.05, -0.04,
             -0.01, 0.05, 0.1, 0.1, 0.08, 0.06, 0.04, 0.02, -0.01, -0.03,
             -0.06, -0.09, -0.13, -0.14]

beats_n = [n_red_1, n_blue_1, n_purple_1, n_gray_1, n_yellow_1, n_green_1, n_pink_1,
           n_red_2, n_blue_2, n_purple_2, n_gray_2, n_yellow_2, n_green_2]
beats_s = [s_red_1, s_blue_1, s_purple_1, s_gray_1, s_yellow_1, s_green_1, s_pink_1,
           s_red_2, s_blue_2, s_purple_2, s_gray_2, s_yellow_2, s_green_2, s_pink_2]
beats_f = [f_red_1, f_blue_1, f_purple_1, f_gray_1, f_yellow_1, f_green_1, f_pink_1,
           f_red_2, f_blue_2, f_purple_2, f_gray_2, f_yellow_2, f_green_2]
beats_v = [v_red_1, v_blue_1, v_purple_1, v_gray_1, v_yellow_1, v_green_1, v_pink_1,
           v_red_2, v_blue_2, v_purple_2, v_gray_2, v_yellow_2, v_green_2]

# ---------------------------------------------------------------
# Layout (pixels of the 1820x1951 page)
# ---------------------------------------------------------------
W, H = 1820, 1951
fig = plt.figure(figsize=(W / 100, H / 100), dpi=100, facecolor='#f2f2f2')


def frac_box(x0, y0, x1, y1):
    return [x0 / W, 1 - y1 / H, (x1 - x0) / W, (y1 - y0) / H]


def panel(card, box, title, xs, beats, big=True):
    l, b, w, h = frac_box(*card)
    fig.add_artist(Rectangle((l, b), w, h, transform=fig.transFigure,
                             facecolor='white', edgecolor='none', zorder=-1))
    ax = fig.add_axes(frac_box(*box))
    for ys in beats:
        ax.plot(xs, ys, lw=1.6)
    ax.set_xlim(0, 300)
    fs_title, fs_label, fs_tick = (20.5, 18.5, 10.5) if big else (19, 17.3, 9.7)
    ax.set_title(title, fontsize=fs_title, color='black')
    ax.set_xlabel('Sample', fontsize=fs_label)
    ax.set_ylabel('MLII', fontsize=fs_label)
    ax.tick_params(labelsize=fs_tick)
    return ax


panel((31, 41, 872, 882), (137, 140, 786, 775), 'Clase N', samples_n, beats_n)
panel((995, 41, 1820, 882), (1100, 140, 1750, 776), 'Clase S', samples_s, beats_s)
panel((31, 1018, 872, 1859), (137, 1118, 786, 1752), 'Clase F', samples_f, beats_f)
panel((995, 1041, 1789, 1834), (1095, 1138, 1708, 1736), 'Clase V', samples_v, beats_v, big=False)

# sub-captions, LaTeX look (the bottom-left one runs off the page, as in the source)
renderer = fig.canvas.get_renderer()
teal = '#4f8f98'
cap_size = 56.5


def caption(x, y, tag, rest):
    t = fig.text(x / W, 1 - y / H, tag, color=teal, fontsize=cap_size,
                 ha='left', va='baseline')
    bb = t.get_window_extent(renderer)
    fig.text((bb.x1 + 26) / W, 1 - y / H, rest, color='#1a1a1a',
             fontsize=cap_size, ha='left', va='baseline')


caption(131, 969, r'$\mathrm{(a)}$', r'$\mathrm{Clase}\ N\ \mathrm{(Normal)}$')
caption(1267, 969, r'$\mathrm{(b)}$', r'$\mathrm{Clase}\ S$')
caption(305, 1943, r'$\mathrm{(c)}$', r'$\mathrm{Clase}\ F$')
caption(1263, 1922, r'$\mathrm{(d)}$', r'$\mathrm{Clase}\ V$')

fig.savefig('out.png', dpi=100, facecolor=fig.get_facecolor())
